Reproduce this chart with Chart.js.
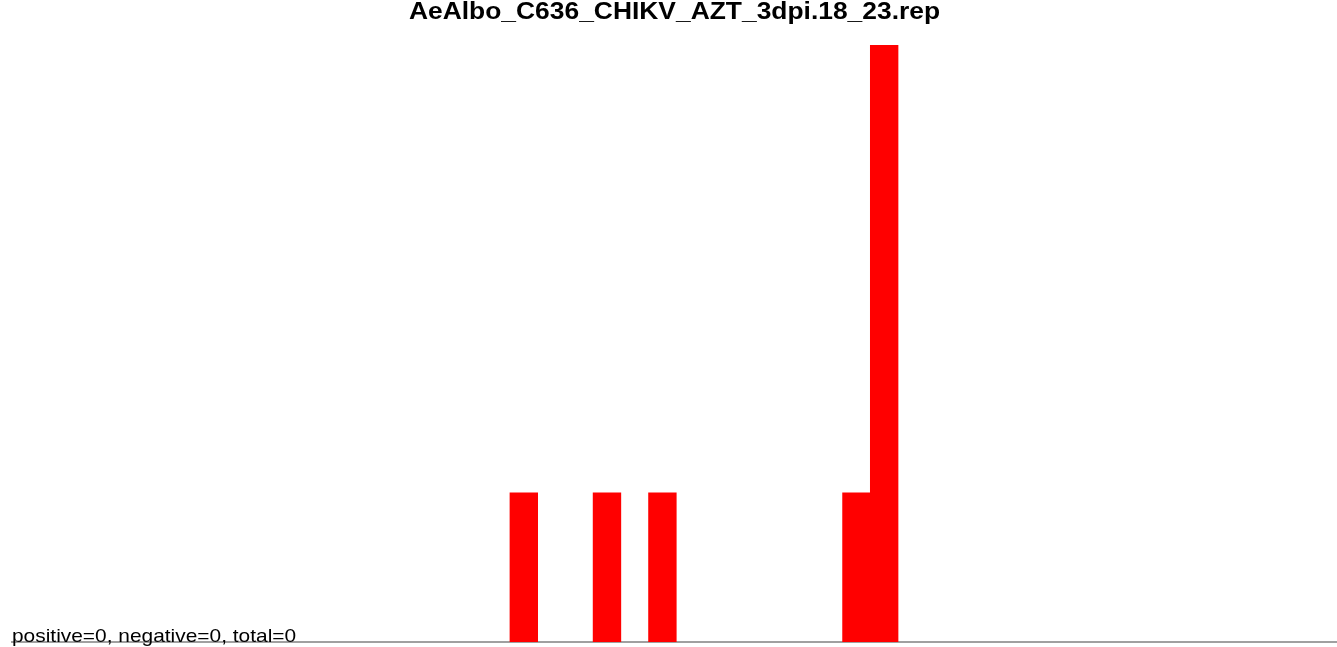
<!DOCTYPE html>
<html>
<head>
<meta charset="utf-8">
<title>AeAlbo_C636_CHIKV_AZT_3dpi.18_23.rep</title>
<script src="https://cdn.jsdelivr.net/npm/chart.js@4.4.1/dist/chart.umd.min.js"></script>
<style>
  html, body { margin: 0; padding: 0; background: #ffffff; }
  #wrap { width: 1337px; height: 647px; }
</style>
</head>
<body>
<div id="wrap"><canvas id="chart" width="1337" height="647"></canvas></div>
<script>
// histogram bins (index along the x axis) and counts
const binIndex = [18, 21, 23, 30, 31];
const readCounts = [1, 1, 1, 1, 4];
const xMin = -0.464;
const xMax = 47.336;
const yMax = 4;

const chartTitle = 'AeAlbo_C636_CHIKV_AZT_3dpi.18_23.rep';
const summaryText = 'positive=0, negative=0, total=0';

// texts in the reference are a bit stretched horizontally
const textPlugin = {
    id: 'textPlugin',
    afterDraw(chart) {
        const ctx = chart.ctx;
        const area = chart.chartArea;
        const stretch = 1.1;

        ctx.save();
        ctx.fillStyle = '#000000';
        ctx.font = 'bold 24px "Liberation Sans", Arial, sans-serif';
        ctx.textAlign = 'center';
        ctx.textBaseline = 'alphabetic';
        const cx = (area.left + area.right) / 2;
        ctx.translate(cx, 18.5);
        ctx.scale(stretch, 1);
        ctx.fillText(chartTitle, 0, 0);
        ctx.restore();

        ctx.save();
        ctx.fillStyle = '#000000';
        ctx.font = '19px "Liberation Sans", Arial, sans-serif';
        ctx.textAlign = 'left';
        ctx.textBaseline = 'alphabetic';
        ctx.translate(12, 641.5);
        ctx.scale(stretch, 1);
        ctx.fillText(summaryText, 0, 0);
        ctx.restore();
    }
};

const ctx = document.getElementById('chart').getContext('2d');
new Chart(ctx, {
    type: 'bar',
    data: {
        datasets: [{
            data: binIndex.map((b, i) => ({ x: b, y: readCounts[i] })),
            backgroundColor: '#ff0000',
            borderWidth: 0,
            barPercentage: 1,
            categoryPercentage: 1
        }]
    },
    options: {
        responsive: false,
        animation: false,
        layout: { padding: { top: 45, left: 12, right: 0, bottom: 5 } },
        plugins: {
            legend: { display: false },
            title: { display: false },
            tooltip: { enabled: false }
        },
        scales: {
            x: {
                type: 'linear',
                min: xMin,
                max: xMax,
                offset: false,
                grid: { display: false },
                ticks: { display: false },
                border: { display: true, color: '#a0a0a0', width: 2 },
                afterFit(scale) { scale.height = 0; }
            },
            y: {
                display: false,
                min: 0,
                max: yMax
            }
        }
    },
    plugins: [textPlugin]
});
</script>
</body>
</html>
